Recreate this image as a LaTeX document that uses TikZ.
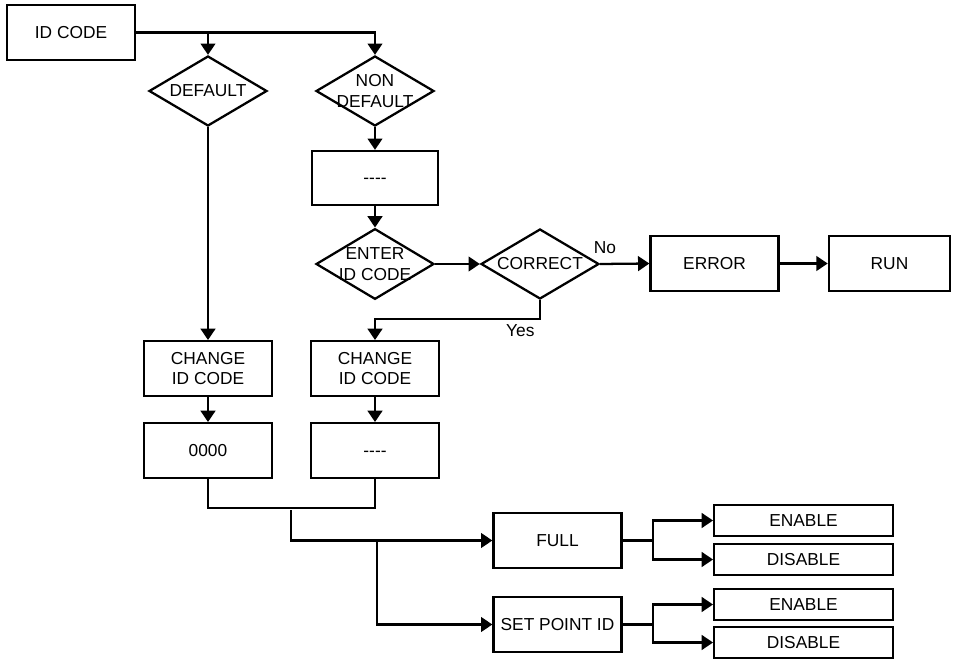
\documentclass[tikz,border=0pt]{standalone}
\usepackage{fontspec}
\setmainfont{Liberation Sans}
\usetikzlibrary{arrows.meta,shapes.geometric}

\begin{document}
\begin{tikzpicture}[x=0.75pt, y=-0.75pt, >={Triangle[length=8.5pt,width=11pt]},
      line width=1.7pt, font=\fontsize{13}{15.5}\selectfont,
      n/.style={draw, align=center, inner sep=0pt, minimum width=96pt, minimum height=41pt},
      opt/.style={draw, inner sep=0pt, minimum width=134pt, minimum height=23pt},
      dia/.style={draw, diamond, inner sep=0pt, minimum width=88.5pt, minimum height=52.5pt}]
      \useasboundingbox (0,0) rectangle (954,659);
      % top part
      \node[n] (idcode) at (71,32.5) {ID CODE};
      \node[dia, label={center:DEFAULT}] (dflt) at (208,91) {};
      \node[dia, label={[align=center]center:NON\\DEFAULT}] (ndflt) at (375,91) {};
      \node[n, minimum width=94.5pt, minimum height=40.5pt] (blank1) at (375,178) {\vphantom{0}-{}-{}-{}-};
      \node[dia, minimum height=53pt, label={[align=center]center:ENTER\\ID CODE}] (enter) at (375,264) {};
      \node[dia, label={center:CORRECT}] (correct) at (540,264) {};
      \node[n] (error) at (714.5,263.5) {ERROR};
      \node[n, minimum width=91pt] (run) at (889.5,263.5) {RUN};
      % change id code
      \node[n] (chg1) at (208,368.5) {CHANGE\\ID CODE};
      \node[n] (chg2) at (375,368.5) {CHANGE\\ID CODE};
      \node[n] (zero) at (208,450.5) {0000};
      \node[n] (blank2) at (375,450.5) {\vphantom{0}-{}-{}-{}-};
      % lower part
      \node[n] (full) at (557.5,540.5) {FULL};
      \node[n] (setpt) at (557.5,624.5) {SET POINT ID};
      \node[opt] (en1) at (803.5,520.5) {ENABLE};
      \node[opt] (dis1) at (803.5,559.5) {DISABLE};
      \node[opt] (en2) at (803.5,604.5) {ENABLE};
      \node[opt] (dis2) at (803.5,642.5) {DISABLE};
      \coordinate (mrg) at (291,510);
      \coordinate (spl) at (377,540.5);

      \draw[->] (idcode.east) -| (ndflt.north);
      \draw[->] (idcode.east -| dflt.north) -- (dflt.north);
      \draw[->] (ndflt) -- (blank1); \draw[->] (blank1) -- (enter);
      \draw[->] (enter) -- (correct);
      \draw[->] (correct.east) -- node[pos=0.1, above=7pt, inner sep=0pt] (no) {No} (error.west);
      \draw[->] (error) -- (run);
      \draw[->] (correct.south) -- ++(0,19) node[below left] (yes) {Yes} -| (chg2.north);
      \draw[->] (dflt) -- (chg1);
      \draw[->] (chg1) -- (zero); \draw[->] (chg2) -- (blank2);
      \draw (zero.south) -- ++(0,29) -| (blank2.south);
      \draw[->] (mrg) |- (full.west);
      \draw[->] (spl) |- (setpt.west);
      \draw[->] (full.east) -- ++(30,0) |- (en1.west);
      \draw[->] (full.east) -- ++(30,0) |- (dis1.west);
      \draw[->] (setpt.east) -- ++(30,0) |- (en2.west);
      \draw[->] (setpt.east) -- ++(30,0) |- (dis2.west);
    \end{tikzpicture}
\end{document}
